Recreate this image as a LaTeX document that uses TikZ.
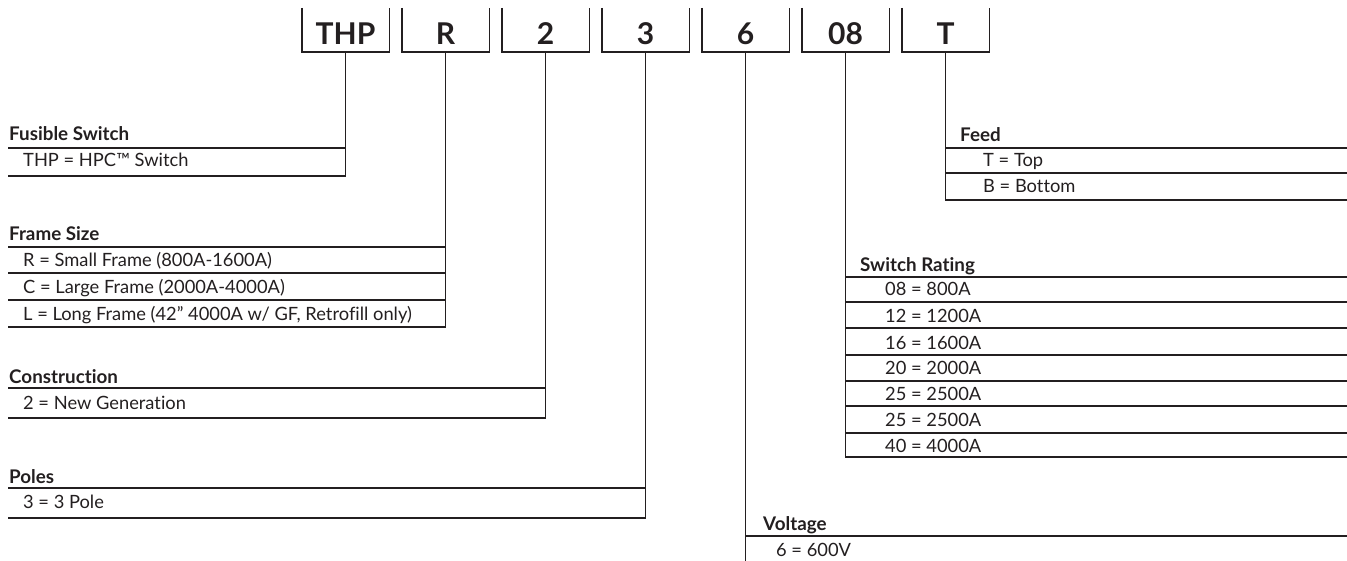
\documentclass[tikz,border=0pt]{standalone}
\usepackage{fontspec}
\setmainfont{Lato}[Ligatures={NoCommon,NoRare,NoDiscretionary}]
\newfontfamily\lightfont{Lato}[Ligatures={NoCommon,NoRare,NoDiscretionary}]
\definecolor{ink}{HTML}{231F20}
\tikzset{
  ln/.style={draw=ink, line width=1.4pt},
  codebox/.style={minimum width=87pt, minimum height=44pt, inner sep=0pt},
  codetxt/.style={font=\fontsize{30}{30}\selectfont\bfseries, text=ink, anchor=base, inner sep=0pt},
  hdr/.style={font=\fontsize{18.8}{18.8}\selectfont\bfseries, text=ink, anchor=base west, inner sep=0pt},
  rowtxt/.style={font=\fontsize{18.3}{18.3}\selectfont\lightfont, text=ink, anchor=base west, inner sep=0pt},
}
\begin{document}
\begin{tikzpicture}[x=1pt,y=-1pt]
\useasboundingbox (0,0) rectangle (1347,561);

% code boxes
\foreach \i/\t [count=\k from 0] in {b1/THP,b2/R,b3/2,b4/3,b5/6,b6/08,b7/T}{
  \node[codebox] (\i) at (345.5+100*\k,30) {};
  \draw[ln] (\i.north west) -- (\i.south west) -- (\i.south east) -- (\i.north east);
  \node[codetxt] (\i t) at (345.5+100*\k,45) {\t};
}

% Fusible Switch
\coordinate (f1) at (345.5,176);
\node[hdr] (fh) at (9,141) {Fusible Switch};
\node[rowtxt] (fr1) at (23,167) {THP = HPC™ Switch};
\draw[ln] (8,148) -- (345.5,148);
\draw[ln] (b1.south) -- (f1) -- (8,176);

% Frame Size
\coordinate (f2) at (445.5,327);
\node[hdr] (rh) at (9,241) {Frame Size};
\node[rowtxt] (rr1) at (23,267) {R = Small Frame (800A-1600A)};
\node[rowtxt] (rr2) at (23,294) {C = Large Frame (2000A-4000A)};
\node[rowtxt] (rr3) at (23,321) {L = Long Frame (42” 4000A w/ GF, Retrofill only)};
\draw[ln] (8,247) -- (445.5,247);
\draw[ln] (8,273) -- (445.5,273);
\draw[ln] (8,300) -- (445.5,300);
\draw[ln] (b2.south) -- (f2) -- (8,327);

% Construction
\coordinate (f3) at (545.5,418);
\node[hdr] (ch) at (9,383) {Construction};
\node[rowtxt] (cr1) at (23,409) {2 = New Generation};
\draw[ln] (8,388) -- (545.5,388);
\draw[ln] (b3.south) -- (f3) -- (8,418);

% Poles
\coordinate (f4) at (645.5,518);
\node[hdr] (ph) at (9,483) {Poles};
\node[rowtxt] (pr1) at (23,508) {3 = 3 Pole};
\draw[ln] (8,488) -- (645.5,488);
\draw[ln] (b4.south) -- (f4) -- (8,518);

% Voltage
\coordinate (f5) at (745.5,561);
\node[hdr] (vh) at (763,530) {Voltage};
\node[rowtxt] (vr1) at (776,556) {6 = 600V};
\draw[ln] (b5.south) -- (f5);
\draw[ln] (745.5,536) -- (1347,536);

% Switch Rating
\coordinate (f6) at (845.5,457);
\node[hdr] (sh) at (860,272) {Switch Rating};
\node[rowtxt] (sr1) at (885,296) {08 = 800A};
\node[rowtxt] (sr2) at (885,322.5) {12 = 1200A};
\node[rowtxt] (sr3) at (885,349) {16 = 1600A};
\node[rowtxt] (sr4) at (885,374.5) {20 = 2000A};
\node[rowtxt] (sr5) at (885,400.5) {25 = 2500A};
\node[rowtxt] (sr6) at (885,426.5) {25 = 2500A};
\node[rowtxt] (sr7) at (885,452) {40 = 4000A};
\foreach \yy in {277,302,328,355,381,406,433}{
  \draw[ln] (845.5,\yy) -- (1347,\yy);
}
\draw[ln] (b6.south) -- (f6) -- (1347,457);

% Feed
\coordinate (f7) at (945.5,200);
\node[hdr] (th) at (960,142) {Feed};
\node[rowtxt] (tr1) at (983,167) {T = Top};
\node[rowtxt] (tr2) at (983,193) {B = Bottom};
\draw[ln] (945.5,148) -- (1347,148);
\draw[ln] (945.5,173) -- (1347,173);
\draw[ln] (b7.south) -- (f7) -- (1347,200);
\end{tikzpicture}
\end{document}
